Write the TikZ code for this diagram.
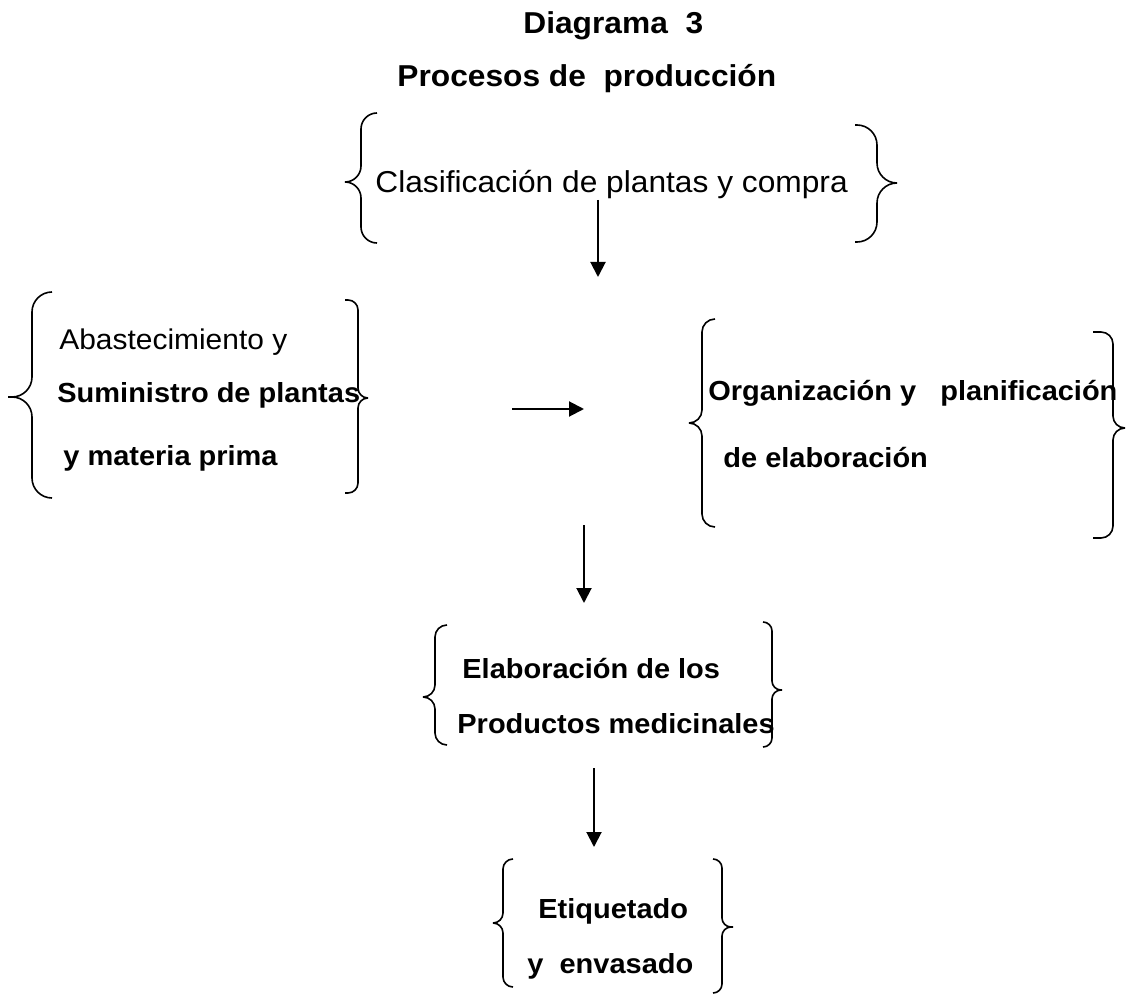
\documentclass[tikz,border=0pt]{standalone}
\usepackage{fontspec}
\setmainfont{Liberation Sans}[FakeStretch=1.05]
\usetikzlibrary{arrows.meta}

\tikzset{
  titletxt/.style={font=\fontsize{15.1}{18}\selectfont\bfseries, anchor=base west, inner sep=0pt},
  plaintxt/.style={font=\fontsize{#1}{18}\selectfont, anchor=base west, inner sep=0pt},
  boldtxt/.style={font=\fontsize{13.8}{17}\selectfont\bfseries, anchor=base west, inner sep=0pt},
  curly/.style={line width=0.8pt, rounded corners=#1},
  flow/.style={line width=1pt, -{Triangle[length=7.5pt,width=7.5pt]}}
}

\begin{document}
\begin{tikzpicture}[x=0.5pt, y=-0.5pt]
    \useasboundingbox (0,0) rectangle (1126,995);

    % Titles
    \node[titletxt] (tit1) at (523,34) {Diagrama~~3};
    \node[titletxt] (tit2) at (397,87) {Procesos de~~producción};

    % Clasificacion
    \node[plaintxt=15.1] (clas) at (375,193) {Clasificación de plantas y compra};
    \draw[curly=8pt] (377,113) -- (361,113) -- (361,182) -- (345,182)
        (345,182) -- (361,182) -- (361,243) -- (377,243);
    \draw[curly=10pt] (855,125) -- (877,125) -- (877,183) -- (897,183)
        (897,183) -- (877,183) -- (877,242) -- (855,242);

    % Abastecimiento
    \node[plaintxt=14.25] (abas) at (59,350) {Abastecimiento y};
    \node[boldtxt] (sumi) at (57,402) {Suministro de plantas};
    \node[boldtxt] (mate) at (63,465) {y materia prima};
    \draw[curly=10pt] (52,292) -- (32,292) -- (32,397) -- (8,397)
        (8,397) -- (32,397) -- (32,498) -- (52,498);
    \draw[curly=5pt] (345,300) -- (358,300) -- (358,398) -- (368,398)
        (368,398) -- (358,398) -- (358,493) -- (345,493);

    % Organizacion
    \node[boldtxt] (orga) at (708,400) {Organización y~~~planificación};
    \node[boldtxt] (dela) at (723,467) {de elaboración};
    \draw[curly=6.5pt] (715,319) -- (702,319) -- (702,423) -- (689,423)
        (689,423) -- (702,423) -- (702,527) -- (715,527);
    \draw[curly=6pt] (1093,332) -- (1113,332) -- (1113,428) -- (1125,428)
        (1125,428) -- (1113,428) -- (1113,538) -- (1093,538);

    % Elaboracion
    \node[boldtxt] (ela1) at (462,678) {Elaboración de los};
    \node[boldtxt] (ela2) at (457,733) {Productos medicinales};
    \draw[curly=6pt] (447,625) -- (435,625) -- (435,697) -- (423,697)
        (423,697) -- (435,697) -- (435,745) -- (447,745);
    \draw[curly=4.5pt] (763,622) -- (772,622) -- (772,690) -- (782,690)
        (782,690) -- (772,690) -- (772,747) -- (763,747);

    % Etiquetado
    \node[boldtxt] (eti1) at (538,918) {Etiquetado};
    \node[boldtxt] (eti2) at (527,973) {y~~envasado};
    \draw[curly=5pt] (513,859) -- (503,859) -- (503,923) -- (493,923)
        (493,923) -- (503,923) -- (503,987) -- (513,987);
    \draw[curly=4.5pt] (713,859) -- (722,859) -- (722,927) -- (733,927)
        (733,927) -- (722,927) -- (722,993) -- (713,993);

    % Arrows
    \coordinate (a1s) at (598,200);
    \coordinate (a1e) at (598,277);
    \coordinate (a2s) at (512,409);
    \coordinate (a2e) at (584,409);
    \coordinate (a3s) at (584,525);
    \coordinate (a3e) at (584,603);
    \coordinate (a4s) at (594,768);
    \coordinate (a4e) at (594,847);
    \draw[flow] (a1s) -- (a1e);
    \draw[flow] (a2s) -- (a2e);
    \draw[flow] (a3s) -- (a3e);
    \draw[flow] (a4s) -- (a4e);
\end{tikzpicture}
\end{document}
